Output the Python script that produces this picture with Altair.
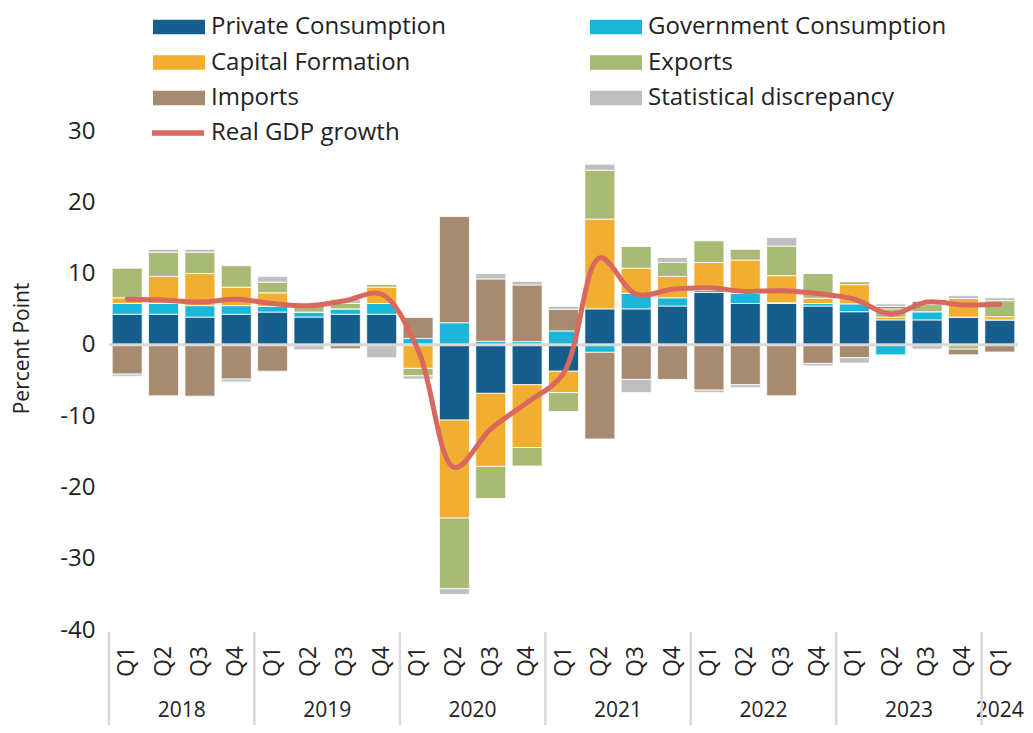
import altair as alt
import pandas as pd

years = ["2018"] * 4 + ["2019"] * 4 + ["2020"] * 4 + ["2021"] * 4 + ["2022"] * 4 + ["2023"] * 4 + ["2024"]
quarters = ["Q1", "Q2", "Q3", "Q4"] * 6 + ["Q1"]

private = [4.3, 4.3, 3.9, 4.3, 4.6, 3.9, 4.3, 4.3, -0.1, -10.55, -6.8, -5.6,
           -3.7, 5.05, 5.05, 5.45, 7.35, 5.8, 5.8, 5.45, 4.65, 3.5, 3.5, 3.9, 3.5]
government = [1.5, 1.5, 1.6, 1.2, 0.8, 0.7, 0.75, 1.5, 0.9, 3.1, 0.5, 0.45,
              1.95, -1.05, 2.2, 1.15, 0.3, 1.4, 0.1, 0.35, 1.1, -1.4, 1.15, 0.0, 0.0]
capital = [0.8, 3.8, 4.5, 2.6, 1.9, 0.0, 0.0, 2.3, -3.2, -13.75, -10.25, -8.8,
           -3.0, 12.6, 3.5, 3.0, 3.9, 4.7, 3.8, 0.75, 2.7, 0.4, 0.0, 2.6, 0.45]
exports = [4.15, 3.4, 3.0, 3.0, 1.5, 0.9, 0.75, 0.4, -1.05, -9.9, -4.5, -2.6,
           -2.65, 6.85, 3.05, 1.95, 3.05, 1.5, 4.15, 3.45, 0.4, 1.15, 1.0, -0.6, 2.25]
imports = [-4.1, -7.15, -7.2, -4.8, -3.7, 0.0, -0.55, 0.0, 2.95, 14.9, 8.75, 7.95,
           3.05, -12.15, -4.85, -4.85, -6.35, -5.6, -7.15, -2.6, -1.8, 0.35, 0.45, -0.8, -1.0]
discrepancy = [-0.3, 0.4, 0.4, -0.4, 0.8, -0.7, 0.6, -1.8, -0.45, -0.8, 0.75, 0.5,
               0.4, 0.85, -1.85, 0.7, -0.35, -0.4, 1.2, -0.35, -0.75, 0.35, -0.6, 0.4, 0.4]
gdp = [6.4, 6.3, 6.0, 6.4, 5.8, 5.5, 6.2, 7.1, -0.7, -17.2, -11.8, -8.1,
       -4.0, 12.2, 7.1, 7.8, 8.0, 7.5, 7.6, 7.2, 6.4, 4.3, 6.0, 5.6, 5.7]

components = ["Private Consumption", "Government Consumption", "Capital Formation",
              "Exports", "Imports", "Statistical discrepancy"]
colors = ["#165e8b", "#1bb6da", "#f2ae31", "#a8ba73", "#a68b70", "#bfbfbf"]
series = [private, government, capital, exports, imports, discrepancy]

rows = []
for k, (name, vals) in enumerate(zip(components, series)):
    for i, v in enumerate(vals):
        rows.append({"idx": i, "year": years[i], "q": quarters[i],
                     "component": name, "k": k, "value": v})
bars_df = pd.DataFrame(rows)

line_df = pd.DataFrame({"idx": list(range(len(gdp))), "year": years, "q": quarters,
                        "gdp": gdp, "series": ["Real GDP growth"] * len(gdp)})

W, H = 909, 499
FONT = "Open Sans"
TXT = "#222222"

xscale = alt.Scale(domain=[-0.5, 24.5], nice=False, zero=False, padding=0)
yscale = alt.Scale(domain=[-40, 30], nice=False, zero=False, padding=0)

bars = alt.Chart(bars_df).mark_bar(size=30, stroke="white", strokeWidth=0.8).encode(
    x=alt.X("idx:Q", scale=xscale, axis=None),
    y=alt.Y("value:Q", stack="zero", scale=yscale,
            axis=alt.Axis(values=[-40, -30, -20, -10, 0, 10, 20, 30], grid=False,
                          domain=False, ticks=False, tickSize=0,
                          labelExpr="toString(datum.value)",
                          labelFont=FONT, labelFontSize=24, labelColor=TXT,
                          labelPadding=14, title="Percent Point",
                          titleFont=FONT, titleFontSize=21, titleFontWeight="normal",
                          titleColor=TXT, titleAngle=270, titleX=-87, titleY=217,
                          titleAlign="center", titleBaseline="middle")),
    fill=alt.Fill("component:N", sort=components,
                  scale=alt.Scale(domain=components, range=colors),
                  legend=alt.Legend(orient="none", legendX=44, legendY=-117,
                                    direction="horizontal",
                                    columns=2, columnPadding=144, rowPadding=10.5,
                                    title=None, labelFont=FONT, labelFontSize=24,
                                    labelColor=TXT, labelLimit=400,
                                    symbolType="M-1,-0.55L3,-0.55L3,0.55L-1,0.55Z",
                                    symbolSize=676, symbolStrokeWidth=0,
                                    symbolOpacity=1, labelOffset=32)),
    order=alt.Order("k:Q", sort="ascending"),
)

zero = alt.Chart(pd.DataFrame({"z": [0]})).mark_rule(color="#d9d9d9", strokeWidth=3).encode(
    y=alt.Y("z:Q", scale=yscale)
)

line = alt.Chart(line_df).mark_line(interpolate="catmull-rom", strokeWidth=5,
                                    strokeCap="round").encode(
    x=alt.X("idx:Q", scale=xscale, axis=None),
    y=alt.Y("gdp:Q", scale=yscale),
    stroke=alt.Stroke("series:N",
                      scale=alt.Scale(domain=["Real GDP growth"], range=["#d9695f"]),
                      legend=alt.Legend(orient="none", legendX=40, legendY=-14,
                                        title=None, labelFont=FONT, labelFontSize=24,
                                        labelColor=TXT, labelLimit=400,
                                        symbolType="M-1,0L3,0", symbolSize=676,
                                        symbolStrokeWidth=5.5, labelOffset=30)),
)

qlabels = alt.Chart(line_df).mark_text(angle=270, align="right", baseline="middle",
                                       fontSize=23, font=FONT, color=TXT).encode(
    x=alt.X("idx:Q", scale=xscale, axis=None),
    y=alt.value(H + 16),
    text="q:N",
)

ylabels = alt.Chart(line_df).transform_aggregate(
    pos="mean(idx)", groupby=["year"]
).mark_text(align="center", baseline="middle", fontSize=21, font=FONT, color=TXT).encode(
    x=alt.X("pos:Q", scale=xscale, axis=None),
    y=alt.value(H + 81),
    text="year:N",
)

seps = alt.Chart(line_df).transform_aggregate(
    start="min(idx)", groupby=["year"]
).transform_calculate(b="datum.start - 0.5").mark_rule(
    color="#d9d9d9", strokeWidth=2.5
).encode(
    x=alt.X("b:Q", scale=xscale, axis=None),
    y=alt.value(H + 2),
    y2=alt.value(H + 95),
)

chart = alt.layer(bars, zero, line, qlabels, ylabels, seps).properties(
    width=W, height=H,
    autosize=alt.AutoSizeParams(type="none"),
    padding={"left": 101, "top": 123, "right": 7, "bottom": 95},
).configure_view(stroke=None)

chart.save("out.html", embed_options={"renderer": "svg", "actions": False})
